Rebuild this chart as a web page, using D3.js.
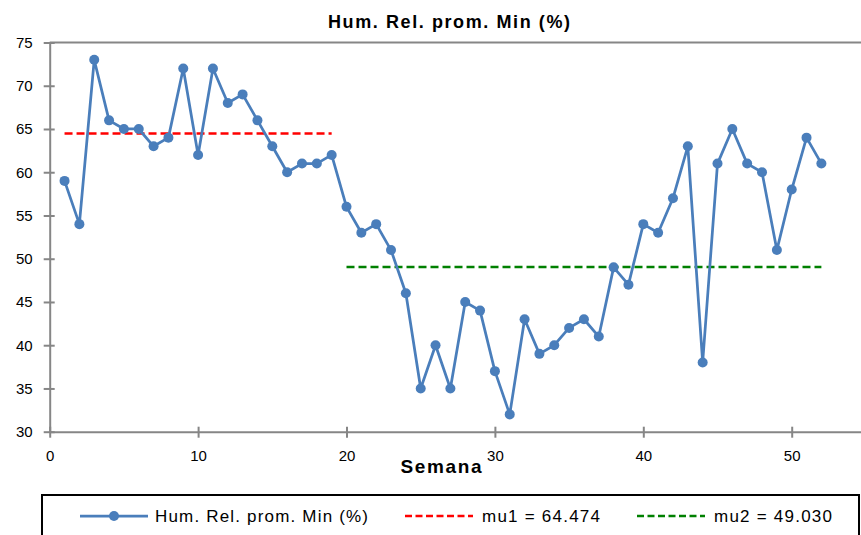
<!DOCTYPE html>
<html>
<head>
<meta charset="utf-8">
<script src="https://cdn.jsdelivr.net/npm/d3@7"></script>
<style>
  body { margin: 0; background: #fff; }
  svg { display: block; }
</style>
</head>
<body>
<svg id="chart" width="861" height="535"></svg>
<script>
// weekly data
const semanas = d3.range(1, 53);
const hum_min = [59, 54, 73, 66, 65, 65, 63, 64, 72, 62, 72, 68, 69, 66, 63, 60, 61, 61, 62,
                 56, 53, 54, 51, 46, 35, 40, 35, 45, 44, 37, 32, 43, 39, 40, 42, 43, 41, 49,
                 47, 54, 53, 57, 63, 38, 61, 65, 61, 60, 51, 58, 64, 61];
const mu_labels = ["mu1 = 64.474", "mu2 = 49.030"];
const mu_values = [64.474, 49.030];
const mu_ranges = [[1, 19], [20, 52]];
const mu_colors = ["#ff0000", "#008000"];
const x_ticks = [0, 10, 20, 30, 40, 50];
const y_ticks = [30, 35, 40, 45, 50, 55, 60, 65, 70, 75];

const data = semanas.map((s, i) => ({ semana: s, valor: hum_min[i] }));

const svg = d3.select("#chart");
const axis_color = "#868686";
const line_color = "#4a7ebb";
const font = "'Liberation Sans', Arial, sans-serif";

let xScale = d3.scaleLinear()
    .domain([0, 55])
    .range([49.7, 865.9]);

let yScale = d3.scaleLinear()
    .domain([30, 75])
    .range([431.7, 42.5]);

// top border of plot area
svg.append("line")
    .attr("x1", xScale(0)).attr("x2", 861)
    .attr("y1", yScale(75)).attr("y2", yScale(75))
    .attr("stroke", axis_color).attr("stroke-width", 2);

// y axis
const yAxis = d3.axisLeft(yScale).tickValues(y_ticks).tickSize(0).tickPadding(17);
const y_g = svg.append("g")
    .attr("transform", `translate(${xScale(0)},0)`)
    .call(yAxis);
y_g.select(".domain").attr("stroke", axis_color).attr("stroke-width", 2);
y_g.selectAll(".tick text")
    .attr("font-family", font).attr("font-size", 15).attr("fill", "#000");
y_g.selectAll(".tick").append("line")
    .attr("x1", -6).attr("x2", 5)
    .attr("stroke", axis_color).attr("stroke-width", 2);

// x axis
const xAxis = d3.axisBottom(xScale).tickValues(x_ticks).tickSize(0).tickPadding(19);
const x_g = svg.append("g")
    .attr("transform", `translate(0,${yScale(30)})`)
    .call(xAxis);
x_g.select(".domain").attr("stroke", axis_color).attr("stroke-width", 2);
x_g.selectAll(".tick text")
    .attr("font-family", font).attr("font-size", 15).attr("fill", "#000");
x_g.selectAll(".tick").append("line")
    .attr("y1", -5).attr("y2", 6)
    .attr("stroke", axis_color).attr("stroke-width", 2);

// mean lines
mu_values.forEach((mu, i) => {
    svg.append("line")
        .attr("x1", xScale(mu_ranges[i][0]))
        .attr("x2", xScale(mu_ranges[i][1]))
        .attr("y1", yScale(mu)).attr("y2", yScale(mu))
        .attr("stroke", mu_colors[i])
        .attr("stroke-width", 2.5)
        .attr("stroke-dasharray", "8,4");
});

// series line + markers
const line = d3.line()
    .x(d => xScale(d.semana))
    .y(d => yScale(d.valor));

svg.append("path")
    .datum(data)
    .attr("d", line)
    .attr("fill", "none")
    .attr("stroke", line_color)
    .attr("stroke-width", 2.75)
    .attr("stroke-linejoin", "round");

svg.selectAll(".mark")
    .data(data)
    .enter()
    .append("circle")
    .attr("class", "mark")
    .attr("cx", d => xScale(d.semana))
    .attr("cy", d => yScale(d.valor))
    .attr("r", 5)
    .attr("fill", line_color);

// title + axis label
svg.append("text")
    .text("Hum. Rel. prom. Min (%)")
    .attr("x", 449).attr("y", 28)
    .attr("text-anchor", "middle")
    .attr("textLength", 242)
    .attr("font-family", font)
    .attr("font-weight", "bold")
    .attr("font-size", 18);

svg.append("text")
    .text("Semana")
    .attr("x", 441).attr("y", 473)
    .attr("text-anchor", "middle")
    .attr("textLength", 81)
    .attr("font-family", font)
    .attr("font-weight", "bold")
    .attr("font-size", 19);

// legend
const legend_g = svg.append("g");
legend_g.append("rect")
    .attr("x", 42).attr("y", 495)
    .attr("width", 817).attr("height", 60)
    .attr("fill", "#fff")
    .attr("stroke", "#000")
    .attr("stroke-width", 2);

const leg_y = 516;

legend_g.append("line")
    .attr("x1", 80).attr("x2", 148)
    .attr("y1", leg_y).attr("y2", leg_y)
    .attr("stroke", line_color).attr("stroke-width", 2.75);
legend_g.append("circle")
    .attr("cx", 114).attr("cy", leg_y).attr("r", 5)
    .attr("fill", line_color);
legend_g.append("text")
    .text("Hum. Rel. prom. Min (%)")
    .attr("x", 155).attr("y", leg_y)
    .attr("dominant-baseline", "central")
    .attr("textLength", 213)
    .attr("font-family", font).attr("font-size", 17);

const mu_leg_x = [405, 637];
mu_labels.forEach((lab, i) => {
    legend_g.append("line")
        .attr("x1", mu_leg_x[i]).attr("x2", mu_leg_x[i] + 68)
        .attr("y1", leg_y).attr("y2", leg_y)
        .attr("stroke", mu_colors[i])
        .attr("stroke-width", 2.5)
        .attr("stroke-dasharray", "7,3.5");
    legend_g.append("text")
        .text(lab)
        .attr("x", mu_leg_x[i] + 77).attr("y", leg_y)
        .attr("dominant-baseline", "central")
        .attr("textLength", 118)
        .attr("font-family", font).attr("font-size", 17);
});
</script>
</body>
</html>
